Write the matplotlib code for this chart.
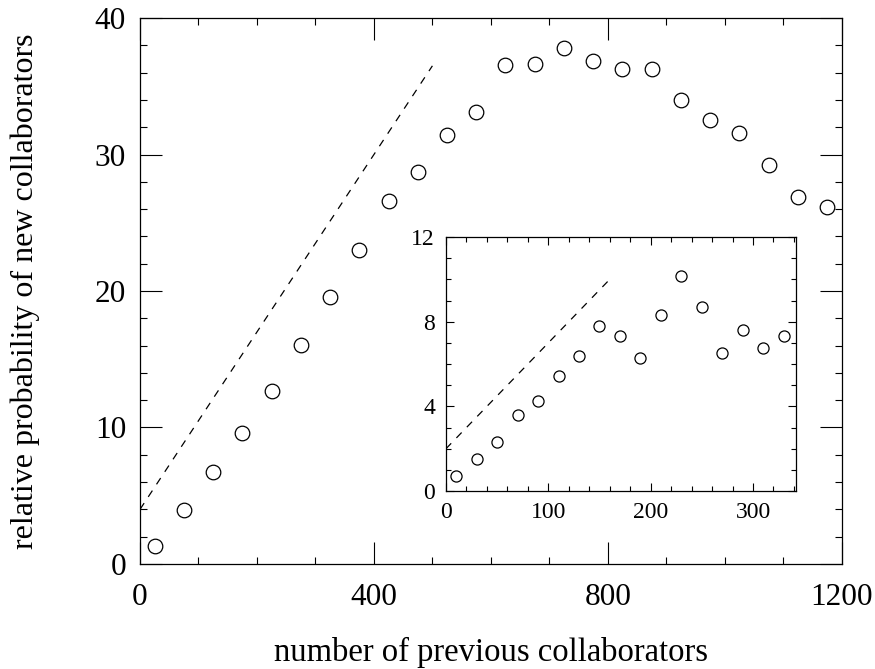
import matplotlib
matplotlib.use("Agg")
import matplotlib.pyplot as plt
import numpy as np
from matplotlib.ticker import MultipleLocator

# Main data
main_x = [25, 75, 125, 175, 225, 275, 325, 375, 425, 475, 525, 575,
          625, 675, 725, 775, 825, 875, 925, 975, 1025, 1075, 1125, 1175]
main_y = [1.34, 3.96, 6.72, 9.62, 12.67, 16.07, 19.56, 23.03, 26.6, 28.74, 31.43, 33.09,
          36.56, 36.6, 37.8, 36.87, 36.29, 36.24, 34.02, 32.5, 31.6, 29.23, 26.9, 26.18]
main_line_x = [0, 500]
main_line_y = [4.0, 36.5]

# Inset data
inset_x = [10, 30, 50, 70, 90, 110, 130, 150, 170, 190, 210, 230, 250, 270, 290, 310, 330]
inset_y = [0.69, 1.51, 2.33, 3.59, 4.25, 5.43, 6.39, 7.81, 7.31, 6.30, 8.30, 10.14,
           8.71, 6.54, 7.62, 6.76, 7.31]
inset_line_x = [0, 160]
inset_line_y = [2.0, 10.0]

main_xticks = [0, 400, 800, 1200]
main_yticks = [0, 10, 20, 30, 40]
inset_xticks = [0, 100, 200, 300]
inset_yticks = [0, 4, 8, 12]

plt.rcParams['font.family'] = ['Liberation Serif', 'DejaVu Serif']

fig = plt.figure(figsize=(8.75, 6.69), dpi=100)
ax = fig.add_axes([0.16, 0.157, 0.802, 0.816])
ax.plot(main_x, main_y, linestyle='none', marker='o', markersize=10.5,
        markerfacecolor='white', markeredgecolor='black', markeredgewidth=0.9)
ax.plot(main_line_x, main_line_y, linestyle=(0, (6, 6)), color='black', linewidth=0.9)
ax.set_xlim(0, 1200)
ax.set_ylim(0, 40)
ax.set_xticks(main_xticks)
ax.set_yticks(main_yticks)
ax.xaxis.set_minor_locator(MultipleLocator(100))
ax.yaxis.set_minor_locator(MultipleLocator(2))
ax.tick_params(which='both', direction='in', top=True, right=True, width=0.8)
ax.tick_params(which='major', length=16, labelsize=22.5)
ax.tick_params(axis='x', which='major', pad=14)
ax.tick_params(axis='y', which='major', pad=10)
ax.tick_params(which='minor', length=5)
for s in ax.spines.values():
    s.set_linewidth(0.9)
ax.set_xlabel('number of previous collaborators', fontsize=23.5)
ax.set_ylabel('relative probability of new collaborators', fontsize=23)
ax.xaxis.set_label_coords(0.5, -0.134)
ax.yaxis.set_label_coords(-0.143, 0.5)

ins = fig.add_axes([0.5097, 0.266, 0.4, 0.3797])
ins.plot(inset_x, inset_y, linestyle='none', marker='o', markersize=8,
         markerfacecolor='white', markeredgecolor='black', markeredgewidth=0.9)
ins.plot(inset_line_x, inset_line_y, linestyle=(0, (6, 6)), color='black', linewidth=0.9)
ins.set_xlim(0, 342)
ins.set_ylim(0, 12)
ins.set_xticks(inset_xticks)
ins.set_yticks(inset_yticks)
ins.xaxis.set_minor_locator(MultipleLocator(20))
ins.yaxis.set_minor_locator(MultipleLocator(1))
ins.tick_params(which='both', direction='in', top=True, right=True, width=0.8)
ins.tick_params(which='major', length=6, labelsize=17, pad=8)
ins.tick_params(which='minor', length=3.5)
for s in ins.spines.values():
    s.set_linewidth(0.9)

fig.savefig('out.png', dpi=100)
